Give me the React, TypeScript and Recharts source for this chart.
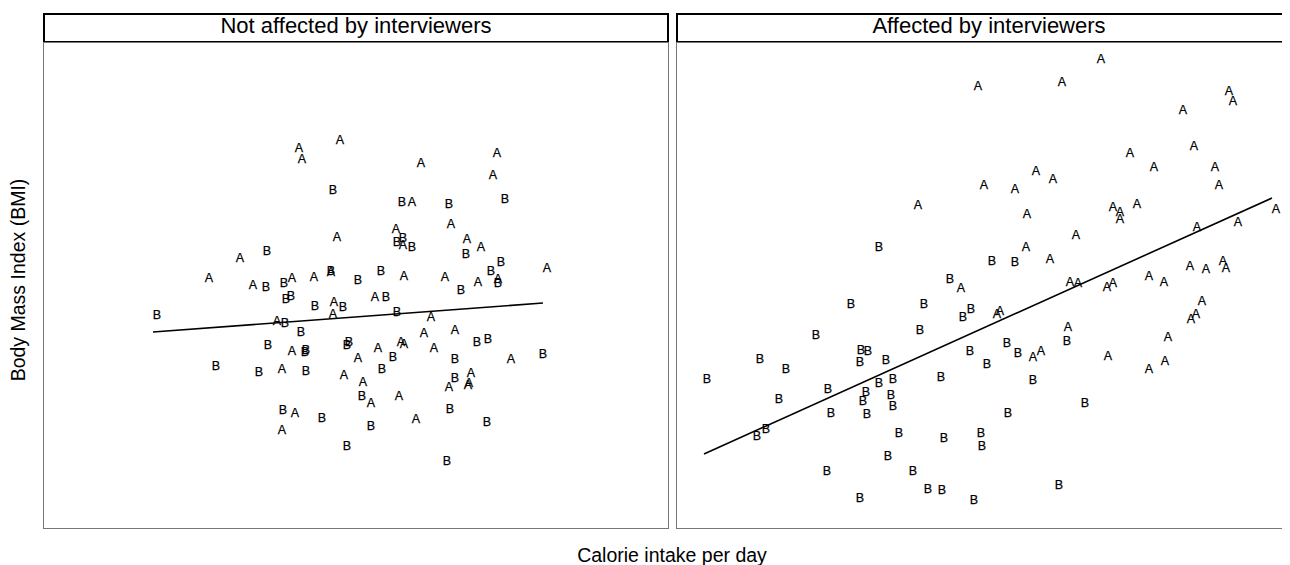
import React from "react";
import { ScatterChart, Scatter, XAxis, YAxis, ReferenceLine } from "recharts";

type Pt = { x: number; y: number };

const panelTitles = ["Not affected by interviewers", "Affected by interviewers"];
const xAxisTitle = "Calorie intake per day";
const yAxisTitle = "Body Mass Index (BMI)";
const groupLabels = ["A", "B"];

// Panel 1: not affected by interviewers
const leftA: Pt[] = [
  { x: 297, y: 389 }, { x: 256, y: 381 }, { x: 259, y: 370 }, { x: 378, y: 366 }, { x: 454, y: 376 },
  { x: 450, y: 354 }, { x: 369, y: 327 }, { x: 408, y: 305 }, { x: 294, y: 292 }, { x: 353, y: 300 },
  { x: 360, y: 284 }, { x: 424, y: 290 }, { x: 438, y: 282 }, { x: 504, y: 261 }, { x: 197, y: 271 },
  { x: 166, y: 251 }, { x: 210, y: 244 }, { x: 249, y: 251 }, { x: 271, y: 252 }, { x: 288, y: 257 },
  { x: 361, y: 253 }, { x: 402, y: 252 }, { x: 435, y: 247 }, { x: 455, y: 250 }, { x: 332, y: 232 },
  { x: 291, y: 227 }, { x: 290, y: 215 }, { x: 234, y: 208 }, { x: 388, y: 212 }, { x: 381, y: 196 },
  { x: 412, y: 199 }, { x: 249, y: 178 }, { x: 335, y: 181 }, { x: 358, y: 187 }, { x: 361, y: 185 },
  { x: 391, y: 181 }, { x: 315, y: 171 }, { x: 468, y: 170 }, { x: 239, y: 160 }, { x: 301, y: 154 },
  { x: 320, y: 147 }, { x: 428, y: 156 }, { x: 406, y: 142 }, { x: 425, y: 144 }, { x: 426, y: 146 },
  { x: 328, y: 126 }, { x: 356, y: 133 }, { x: 252, y: 116 }, { x: 373, y: 110 }, { x: 239, y: 99 },
];
const leftB: Pt[] = [
  { x: 290, y: 339 }, { x: 359, y: 327 }, { x: 406, y: 325 }, { x: 462, y: 330 }, { x: 360, y: 291 },
  { x: 354, y: 287 }, { x: 369, y: 282 }, { x: 423, y: 275 }, { x: 224, y: 278 }, { x: 458, y: 267 },
  { x: 448, y: 258 }, { x: 338, y: 258 }, { x: 315, y: 249 }, { x: 223, y: 242 }, { x: 241, y: 246 },
  { x: 288, y: 258 }, { x: 455, y: 246 }, { x: 418, y: 239 }, { x: 343, y: 232 }, { x: 248, y: 233 },
  { x: 243, y: 230 }, { x: 272, y: 223 }, { x: 300, y: 222 }, { x: 354, y: 217 }, { x: 114, y: 214 },
  { x: 242, y: 206 }, { x: 258, y: 197 }, { x: 225, y: 184 }, { x: 263, y: 179 }, { x: 262, y: 177 },
  { x: 306, y: 187 }, { x: 304, y: 184 }, { x: 434, y: 187 }, { x: 445, y: 190 }, { x: 173, y: 163 },
  { x: 216, y: 157 }, { x: 263, y: 158 }, { x: 350, y: 172 }, { x: 412, y: 170 }, { x: 500, y: 175 },
  { x: 339, y: 160 }, { x: 412, y: 151 }, { x: 319, y: 133 }, { x: 407, y: 120 }, { x: 240, y: 119 },
  { x: 279, y: 111 }, { x: 328, y: 103 }, { x: 444, y: 107 }, { x: 304, y: 83 }, { x: 404, y: 68 },
];
const leftFit: Pt[] = [{ x: 110, y: 197 }, { x: 500, y: 226 }];

// Panel 2: affected by interviewers
const rightA: Pt[] = [
  { x: 425, y: 470 }, { x: 386, y: 447 }, { x: 302, y: 443 }, { x: 553, y: 438 }, { x: 557, y: 428 },
  { x: 507, y: 419 }, { x: 518, y: 383 }, { x: 454, y: 376 }, { x: 478, y: 362 }, { x: 539, y: 362 },
  { x: 360, y: 358 }, { x: 377, y: 350 }, { x: 543, y: 344 }, { x: 308, y: 344 }, { x: 339, y: 340 },
  { x: 242, y: 324 }, { x: 437, y: 322 }, { x: 444, y: 317 }, { x: 444, y: 310 }, { x: 461, y: 325 },
  { x: 600, y: 320 }, { x: 351, y: 315 }, { x: 562, y: 307 }, { x: 521, y: 302 }, { x: 400, y: 294 },
  { x: 350, y: 282 }, { x: 374, y: 270 }, { x: 514, y: 263 }, { x: 530, y: 260 }, { x: 547, y: 268 },
  { x: 550, y: 261 }, { x: 473, y: 253 }, { x: 488, y: 247 }, { x: 394, y: 247 }, { x: 402, y: 246 },
  { x: 431, y: 242 }, { x: 437, y: 246 }, { x: 285, y: 241 }, { x: 526, y: 228 }, { x: 321, y: 215 },
  { x: 324, y: 218 }, { x: 515, y: 210 }, { x: 520, y: 215 }, { x: 392, y: 202 }, { x: 492, y: 192 },
  { x: 365, y: 178 }, { x: 357, y: 172 }, { x: 432, y: 173 }, { x: 489, y: 168 }, { x: 473, y: 160 },
];
const rightB: Pt[] = [
  { x: 203, y: 282 }, { x: 316, y: 268 }, { x: 339, y: 267 }, { x: 274, y: 250 }, { x: 175, y: 225 },
  { x: 248, y: 225 }, { x: 295, y: 220 }, { x: 287, y: 212 }, { x: 244, y: 199 }, { x: 140, y: 194 },
  { x: 185, y: 179 }, { x: 192, y: 178 }, { x: 184, y: 167 }, { x: 210, y: 169 }, { x: 294, y: 178 },
  { x: 311, y: 165 }, { x: 84, y: 170 }, { x: 110, y: 160 }, { x: 31, y: 150 }, { x: 203, y: 146 },
  { x: 217, y: 150 }, { x: 265, y: 152 }, { x: 152, y: 140 }, { x: 190, y: 137 }, { x: 187, y: 128 },
  { x: 215, y: 134 }, { x: 217, y: 123 }, { x: 103, y: 130 }, { x: 155, y: 116 }, { x: 191, y: 115 },
  { x: 90, y: 100 }, { x: 81, y: 93 }, { x: 223, y: 96 }, { x: 268, y: 91 }, { x: 305, y: 96 },
  { x: 306, y: 83 }, { x: 212, y: 73 }, { x: 151, y: 58 }, { x: 237, y: 58 }, { x: 252, y: 40 },
  { x: 266, y: 39 }, { x: 184, y: 31 }, { x: 298, y: 29 }, { x: 391, y: 188 }, { x: 331, y: 186 },
  { x: 342, y: 176 }, { x: 357, y: 149 }, { x: 409, y: 126 }, { x: 332, y: 116 }, { x: 383, y: 44 },
];
const rightFit: Pt[] = [{ x: 28, y: 75 }, { x: 596, y: 331 }];

const xDomain: [number, number] = [0, 626];
const yDomain: [number, number] = [0, 487];

const FONT = "'Liberation Sans', Arial, Helvetica, sans-serif";
const PLOT_W = 626;
const PLOT_H = 487;

const letterShape = (label: string) => (props: any) => (
  <text
    x={props.cx}
    y={props.cy}
    textAnchor="middle"
    dominantBaseline="central"
    fontFamily={FONT}
    fontSize={12.5}
    fill="#000"
    stroke="#000"
    strokeWidth={0.25}
  >
    {label}
  </text>
);

function Panel({ left, title, a, b, fit }: { left: number; title: string; a: Pt[]; b: Pt[]; fit: Pt[] }) {
  return (
    <div style={{ position: "absolute", left, top: 5, width: PLOT_W }}>
      <div
        style={{
          boxSizing: "border-box",
          height: 30,
          border: "2px solid #000",
          textAlign: "center",
          fontFamily: FONT,
          fontSize: 22,
          lineHeight: "22px",
          color: "#000",
          whiteSpace: "nowrap",
        }}
      >
        {title}
      </div>
      <div style={{ position: "absolute", left: 0, top: 29, width: PLOT_W, height: PLOT_H }}>
        <ScatterChart width={PLOT_W} height={PLOT_H} margin={{ top: 0, right: 0, bottom: 0, left: 0 }}>
          <XAxis type="number" dataKey="x" domain={xDomain} hide allowDataOverflow />
          <YAxis type="number" dataKey="y" domain={yDomain} hide allowDataOverflow />
          <ReferenceLine
            segment={[fit[0], fit[1]]}
            stroke="#000"
            strokeWidth={1.6}
            ifOverflow="visible"
          />
          <Scatter data={a} shape={letterShape(groupLabels[0])} isAnimationActive={false} />
          <Scatter data={b} shape={letterShape(groupLabels[1])} isAnimationActive={false} />
        </ScatterChart>
        <div
          style={{
            position: "absolute",
            left: 0,
            top: 0,
            width: PLOT_W,
            height: PLOT_H,
            boxSizing: "border-box",
            border: "1px solid #777",
            pointerEvents: "none",
          }}
        />
      </div>
    </div>
  );
}

export default function App() {
  return (
    <div style={{ position: "relative", width: 1310, height: 557, background: "#fff" }}>
      <style>{`html { overflow: hidden; }`}</style>
      <Panel left={35} title={panelTitles[0]} a={leftA} b={leftB} fit={leftFit} />
      <Panel left={668} title={panelTitles[1]} a={rightA} b={rightB} fit={rightFit} />
      <div
        style={{
          position: "absolute",
          left: 364,
          top: 537,
          width: 600,
          textAlign: "center",
          fontFamily: FONT,
          fontSize: 19.5,
          lineHeight: "20px",
          color: "#000",
        }}
      >
        {xAxisTitle}
      </div>
      <div
        style={{
          position: "absolute",
          left: 10 - 150,
          top: 272 - 10,
          width: 300,
          height: 20,
          textAlign: "center",
          fontFamily: FONT,
          fontSize: 19.5,
          lineHeight: "20px",
          color: "#000",
          transform: "rotate(-90deg)",
          whiteSpace: "nowrap",
        }}
      >
        {yAxisTitle}
      </div>
    </div>
  );
}
